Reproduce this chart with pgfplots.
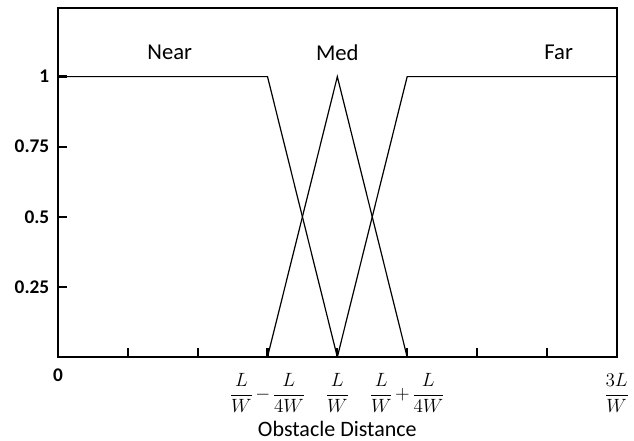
\documentclass[border=0pt]{standalone}
\usepackage{pgfplots}
\pgfplotsset{compat=1.18}
\usetikzlibrary{calc}
\usepackage{fontspec}
\setmainfont{Carlito}
\newcommand{\fr}[2]{\frac{#1}{#2}}
\begin{document}
\begin{tikzpicture}
\begin{axis}[
  scale only axis,
  width=419pt, height=262pt,
  xmin=0, xmax=8, ymin=0, ymax=1.246,
  axis line style={line width=1.7pt},
  xtick pos=bottom, ytick pos=left,
  tick align=inside,
  tick style={line width=1.7pt, black},
  major tick length=7pt,
  xtick={1,2,3,4,5,6,7,8},
  xticklabels={,,$\displaystyle\fr{L}{W}\mkern-2mu-\mkern-2mu\fr{L}{4W}$,$\displaystyle\fr{L}{W}$,$\displaystyle\fr{L}{W}\mkern-2mu+\mkern-2mu\fr{L}{4W}$,,,$\displaystyle\fr{3L}{W}$},
  extra x ticks={0},
  extra x tick labels={\textbf{0}},
  extra x tick style={xticklabel style={font=\fontsize{14.5}{17}\selectfont, yshift=4pt}},
  ytick={0.25,0.5,0.75,1},
  yticklabels={\textbf{0.25},\textbf{0.5},\textbf{0.75},\textbf{1}},
  yticklabel style={font=\fontsize{14.5}{17}\selectfont, xshift=-3pt},
  xticklabel style={font=\fontsize{15.5}{18}\selectfont, yshift=-9pt},
  xlabel={Obstacle Distance},
  xlabel style={font=\fontsize{16.5}{19}\selectfont, yshift=1pt},
  clip=false,
]
\addplot[black, line width=0.9pt] coordinates {(0,1) (3,1) (4,0)};
\addplot[black, line width=0.9pt] coordinates {(3,0) (4,1) (5,0)};
\addplot[black, line width=0.9pt] coordinates {(4,0) (5,1) (8,1)};
\draw[line width=1.7pt] (rel axis cs:0,0) -- (rel axis cs:0,1);
\node[font=\fontsize{17}{19}\selectfont] at (axis cs:1.6,1.086) {Near};
\node[font=\fontsize{17}{19}\selectfont] at (axis cs:4,1.086) {Med};
\node[font=\fontsize{17}{19}\selectfont] at (axis cs:7.17,1.086) {Far};
\end{axis}
\pgfresetboundingbox
\useasboundingbox ($(current axis.south west)+(-43.5pt,-63pt)$) rectangle ++(475.5pt,330.75pt);
\end{tikzpicture}
\end{document}
